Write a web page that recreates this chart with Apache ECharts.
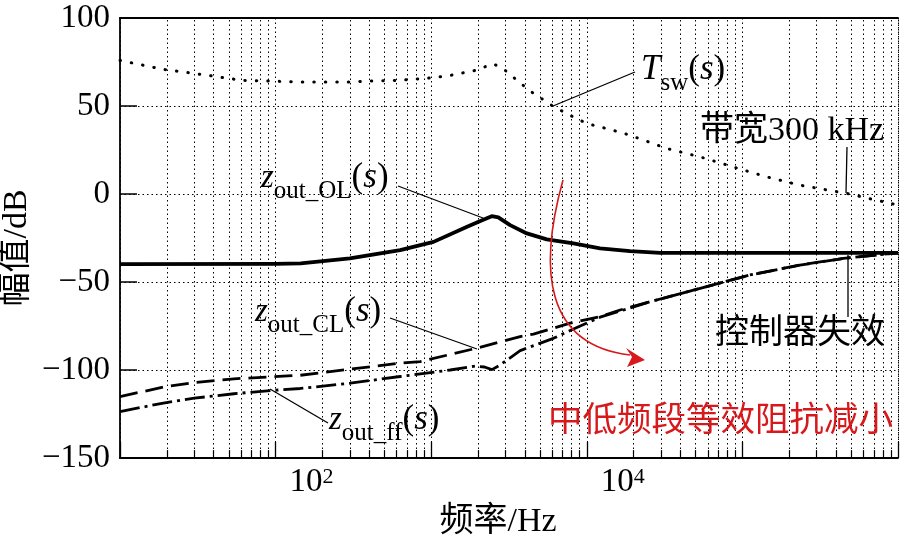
<!DOCTYPE html>
<html>
<head>
<meta charset="utf-8">
<script src="https://cdn.jsdelivr.net/npm/echarts@6.0.0/dist/echarts.min.js"></script>
<style>
html,body{margin:0;padding:0;background:#fff;}
#chart{width:901px;height:553px;}
</style>
</head>
<body>
<div id="chart"></div>
<script>
// ---------------- data ----------------
const tswFreq = [10, 19, 30, 50, 60, 90, 145, 300, 400, 632, 1035, 1324, 1917, 2500, 2900, 3565, 4325, 5010, 6080, 7810, 10040, 14750, 18970, 32800, 53500, 87100, 143900, 234500, 470000, 1000000];
const tswMag  = [75.9, 70.8, 68.5, 65.7, 64.6, 64.2, 63.6, 63.6, 64.2, 64.6, 66.1, 67.4, 70.2, 74.0, 71.2, 64.6, 58.5, 54.8, 49.8, 44.7, 40.0, 36.2, 33.4, 25.8, 21.1, 15.4, 9.7, 5.0, 0.3, -6.3];

const olFreq = [10, 100, 145, 300, 632, 1035, 1700, 2200, 2450, 2700, 3215, 4120, 5530, 8200, 12170, 18970, 29600, 1000000];
const olMag  = [-39.8, -39.7, -39.4, -36.6, -31.9, -27.2, -18.6, -14.4, -12.6, -13.3, -17.7, -22.4, -25.8, -28.1, -30.9, -32.5, -33.4, -33.5];

const clFreq = [10, 19, 30, 54, 144, 302, 632, 850, 1917, 3730, 4540, 7810, 12170, 16370, 25530, 53500, 112000, 234000, 445000, 1000000];
const clMag  = [-115.1, -109.7, -107.1, -105.0, -103.0, -99.5, -96.1, -95.2, -87.8, -81.0, -79.6, -73.4, -69.7, -65.9, -61.2, -53.6, -46.0, -40.4, -36.6, -33.4];

const ffFreq = [10, 19, 30, 54, 92, 144, 302, 632, 1324, 1917, 2200, 2455, 2775, 3730, 6100, 7810, 12170, 16370, 25530, 53500, 112000, 234000, 445000, 1000000];
const ffMag  = [-123.6, -118.8, -116.0, -113.5, -111.7, -110.5, -107.5, -103.7, -100.0, -97.8, -98.3, -99.8, -97.1, -89.0, -82.0, -77.6, -70.0, -66.5, -61.2, -53.6, -46.0, -40.4, -36.6, -33.4];

const xMin = 10, xMax = 1000000;
const xLabelValues = [100, 10000];
const xLabelExps = ['2', '4'];
const yMin = -150, yMax = 100, yStep = 50;

const xName = '频率/Hz';
const yName = '幅值/dB';
// ---------------------------------------

const FONT = "'Liberation Serif','Times New Roman','Noto Sans CJK SC',serif";

// minor decade grid positions (2..9 x 10^k)
const minorFreqs = [];
for (let d = xMin; d < xMax; d *= 10) for (let m = 2; m <= 9; m++) minorFreqs.push(m * d);

function curve(freq, mag) { return freq.map((f, i) => [f, mag[i]]); }

const dotted = { color: '#000', type: [1.5, 3], width: 1 };
const RED = '#d7191c';

const mathRich = {
  i:   { fontFamily: FONT, fontSize: 33, fontStyle: 'italic', lineHeight: 33, padding: [0, 0, 9, 0], verticalAlign: 'bottom', fill: '#000', color: '#000' },
  sub: { fontFamily: FONT, fontSize: 25, lineHeight: 25, verticalAlign: 'bottom', fill: '#000', color: '#000' },
  p:   { fontFamily: FONT, fontSize: 35, lineHeight: 35, padding: [0, 0, 9, 0], verticalAlign: 'bottom', fill: '#000', color: '#000' },
  s:   { fontFamily: FONT, fontSize: 35, fontStyle: 'italic', lineHeight: 35, padding: [0, 0, 9, 0], verticalAlign: 'bottom', fill: '#000', color: '#000' }
};

function mathText(x, y, text) {
  return { type: 'text', x: x, y: y, silent: true, z: 100,
    style: { text: text, rich: mathRich, fill: '#000', align: 'left', verticalAlign: 'bottom', textAlign: 'left', textVerticalAlign: 'bottom', fontFamily: FONT, fontSize: 33 } };
}
function plainText(x, y, text, size, color, align, extra) {
  return Object.assign({ type: 'text', x: x, y: y, silent: true, z: 100,
    style: { text: text, fill: color, fontFamily: FONT, fontSize: size, align: align, verticalAlign: 'middle', textAlign: align, textVerticalAlign: 'middle' } }, extra || {});
}
function seg(x1, y1, x2, y2, color, w) {
  return { type: 'line', silent: true, z: 100, shape: { x1: x1, y1: y1, x2: x2, y2: y2 }, style: { stroke: color || '#000', lineWidth: w || 1.3 } };
}

const chart = echarts.init(document.getElementById('chart'), null, { renderer: 'canvas' });

const option = {
  animation: false,
  backgroundColor: '#fff',
  grid: { left: 120, right: 3, top: 18, bottom: 95, containLabel: false, outerBoundsMode: 'none' },
  xAxis: [
    {
      type: 'log', logBase: 10, min: xMin, max: xMax, position: 'bottom',
      axisLine: { show: true, onZero: false, lineStyle: { color: '#000', width: 1.8 } },
      axisTick: { show: true, inside: true, length: 16, lineStyle: { color: '#000', width: 1.3 } },
      axisLabel: {
        show: true, margin: 8,
        formatter: function (v) {
          for (let i = 0; i < xLabelValues.length; i++) {
            if (Math.abs(Math.log10(v) - Math.log10(xLabelValues[i])) < 1e-6) return '{a|10}{b|' + xLabelExps[i] + '}';
          }
          return '';
        },
        rich: {
          a: { fontFamily: FONT, fontSize: 33, color: '#000', lineHeight: 33, padding: [5, 0, 0, 72], verticalAlign: 'bottom' },
          b: { fontFamily: FONT, fontSize: 22, color: '#000', lineHeight: 22, verticalAlign: 'top' }
        }
      },
      splitLine: { show: true, lineStyle: dotted },
      minorTick: { show: false }, minorSplitLine: { show: false }
    },
    {
      type: 'log', logBase: 10, min: xMin, max: xMax, position: 'top',
      axisLine: { show: true, onZero: false, lineStyle: { color: '#000', width: 1.8 } },
      axisTick: { show: false }, axisLabel: { show: false }, splitLine: { show: false }
    }
  ],
  yAxis: {
    type: 'value', min: yMin, max: yMax, interval: yStep,
    axisLine: { show: true, onZero: false, lineStyle: { color: '#000', width: 1.8 } },
    axisTick: { show: true, inside: true, length: 17, lineStyle: { color: '#000', width: 1.5 } },
    axisLabel: {
      show: true, margin: 10, fontFamily: FONT, fontSize: 33, color: '#000',
      formatter: function (v) { return v < 0 ? '\u2212' + Math.abs(v) : String(v); }
    },
    splitLine: { show: true, lineStyle: dotted }
  },
  series: [
    {
      name: 'grid', type: 'line', data: [], silent: true, z: 1,
      markLine: {
        silent: true, animation: false, symbol: ['none', 'none'], label: { show: false },
        emphasis: { disabled: true },
        lineStyle: dotted,
        data: minorFreqs.concat([xMax]).map(v => ({ xAxis: v }))
      }
    },
    {
      name: 'minorTicks', type: 'line', data: [], silent: true, z: 2,
      markLine: {
        silent: true, animation: false, symbol: ['none', 'none'], label: { show: false },
        emphasis: { disabled: true },
        lineStyle: { color: '#000', type: 'solid', width: 1.2 },
        data: minorFreqs.map(v => [{ coord: [v, yMin] }, { coord: [v, yMin + 4.5] }])
      }
    },
    { name: 'Tsw', type: 'line', data: curve(tswFreq, tswMag), showSymbol: false, symbol: 'none', silent: true, z: 5,
      lineStyle: { color: '#000', width: 3, type: [0.5, 11], cap: 'round' } },
    { name: 'zout_OL', type: 'line', data: curve(olFreq, olMag), showSymbol: false, symbol: 'none', silent: true, z: 6,
      lineStyle: { color: '#000', width: 3.8, join: 'round' } },
    { name: 'zout_CL', type: 'line', data: curve(clFreq, clMag), showSymbol: false, symbol: 'none', silent: true, z: 6,
      lineStyle: { color: '#000', width: 2.8, type: [18, 8] } },
    { name: 'zout_ff', type: 'line', data: curve(ffFreq, ffMag), showSymbol: false, symbol: 'none', silent: true, z: 6,
      lineStyle: { color: '#000', width: 2.8, type: [20, 5, 3, 5] } }
  ],
  graphic: {
    elements: [
      // axis names
      plainText(498, 522, xName, 34, '#000', 'center'),
      plainText(17, 248, yName, 34, '#000', 'center', { rotation: Math.PI / 2 }),
      // T_sw(s)
      mathText(641, 96, '{s|T}{sub|sw}{p|(}{s|s}{p|)}'),
      seg(635, 72, 553, 106),
      // bandwidth
      plainText(700, 131, '带宽300 kHz', 34, '#000', 'left'),
      seg(847, 147, 846, 193),
      // z_out_OL
      mathText(261, 204, '{i|z}{sub|out_OL}{p|(}{s|s}{p|)}'),
      seg(398, 186, 483, 218),
      // z_out_CL
      mathText(255, 338, '{i|z}{sub|out_CL}{p|(}{s|s}{p|)}'),
      seg(390, 318, 477, 349),
      // z_out_ff
      mathText(329, 446, '{i|z}{sub|out_ff}{p|(}{s|s}{p|)}'),
      seg(270, 389, 328, 423),
      // controller failure
      plainText(715, 334, '控制器失效', 34, '#000', 'left'),
      seg(848, 255, 848, 317),
      // red arrow and text
      { type: 'bezierCurve', silent: true, z: 100,
        shape: { x1: 563, y1: 180, cpx1: 538, cpy1: 270, cpx2: 545, cpy2: 345, x2: 630, y2: 355 },
        style: { stroke: RED, lineWidth: 1.6, fill: null } },
      { type: 'polygon', silent: true, z: 101,
        shape: { points: [[645, 360], [626, 348], [632, 357], [627, 367]] },
        style: { fill: RED } },
      plainText(548, 422, '中低频段等效阻抗减小', 34.5, RED, 'left')
    ]
  }
};

chart.setOption(option);
</script>
</body>
</html>
